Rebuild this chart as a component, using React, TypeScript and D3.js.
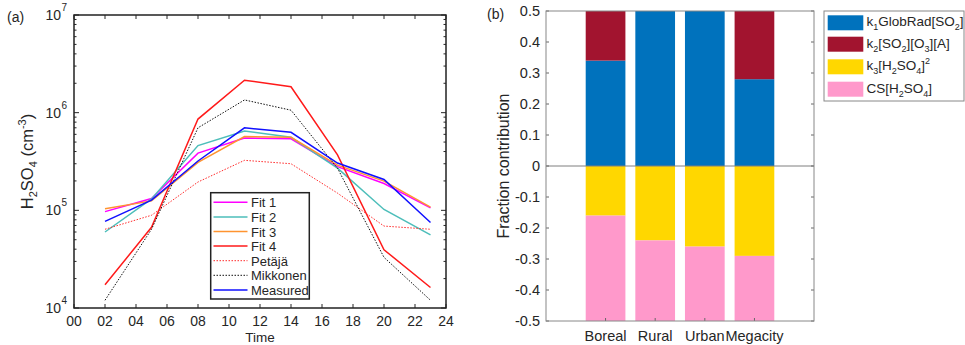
import React from "react";
import * as d3 from "d3";

const hours = [2, 5, 8, 11, 14, 17, 20, 23];
const fit1 = [9.7e4, 1.32e5, 3.85e5, 5.5e5, 5.4e5, 2.8e5, 1.88e5, 1.06e5];
const fit2 = [6.0e4, 1.31e5, 4.6e5, 6.5e5, 5.6e5, 2.7e5, 1.02e5, 5.6e4];
const fit3 = [1.04e5, 1.25e5, 3.1e5, 5.7e5, 5.6e5, 2.9e5, 1.99e5, 1.08e5];
const fit4 = [1.73e4, 6.7e4, 8.6e5, 2.15e6, 1.84e6, 3.7e5, 3.95e4, 1.62e4];
const petaja = [6.4e4, 8.9e4, 1.95e5, 3.25e5, 3.0e5, 1.5e5, 6.9e4, 6.4e4];
const mikkonen = [1.2e4, 6.4e4, 7.0e5, 1.35e6, 1.06e6, 2.7e5, 3.3e4, 1.2e4];
const measured = [7.7e4, 1.27e5, 3.2e5, 7.0e5, 6.3e5, 3.05e5, 2.07e5, 7.5e4];
const seriesNames = ["Fit 1", "Fit 2", "Fit 3", "Fit 4", "Petäjä", "Mikkonen", "Measured"];
const xTickLabels = ["00", "02", "04", "06", "08", "10", "12", "14", "16", "18", "20", "22", "24"];

const categories = ["Boreal", "Rural", "Urban", "Megacity"];
const k1 = [0.34, 0.5, 0.5, 0.28];
const k2 = [0.16, 0.0, 0.0, 0.22];
const k3 = [-0.16, -0.24, -0.26, -0.29];
const cs = [-0.34, -0.26, -0.24, -0.21];
const yTicksB = [0.5, 0.4, 0.3, 0.2, 0.1, 0, -0.1, -0.2, -0.3, -0.4, -0.5];

const FONT = "'Liberation Sans', Arial, sans-serif";
const TXT = "#262626";

export default function App() {
  // Panel (a)
  const ax = { l: 74, r: 446, t: 15, b: 308 };
  const x = d3.scaleLinear().domain([0, 24]).range([ax.l, ax.r]);
  const y = d3.scaleLog().domain([1e4, 1e7]).range([ax.b, ax.t]);
  const line = d3
    .line<[number, number]>()
    .x((d) => x(d[0]))
    .y((d) => y(d[1]));
  const series = [
    { name: seriesNames[0], v: fit1, color: "#ff00ff", w: 1.5, dash: null },
    { name: seriesNames[1], v: fit2, color: "#4dbeba", w: 1.5, dash: null },
    { name: seriesNames[2], v: fit3, color: "#ff9430", w: 1.5, dash: null },
    { name: seriesNames[3], v: fit4, color: "#ff1a1a", w: 1.5, dash: null },
    { name: seriesNames[4], v: petaja, color: "#ff2a2a", w: 1, dash: "1.5,1.5" },
    { name: seriesNames[5], v: mikkonen, color: "#111111", w: 1, dash: "1.5,1.5" },
    { name: seriesNames[6], v: measured, color: "#1010ff", w: 1.5, dash: null },
  ];
  const minorTicks: number[] = [];
  for (let e = 4; e < 7; e++) for (let m = 2; m <= 9; m++) minorTicks.push(m * Math.pow(10, e));
  const majorTicks = [1e4, 1e5, 1e6, 1e7];
  const xTickVals = d3.range(0, 25, 2);

  // Panel (b)
  const bx = { l: 546, r: 814, t: 11, b: 321 };
  const xb = d3.scaleLinear().domain([-0.2, 5.2]).range([bx.l, bx.r]);
  const yb = d3.scaleLinear().domain([-0.5, 0.5]).range([bx.b, bx.t]);
  const barW = xb(0.8) - xb(0);
  const stackColors = { k1: "#0072bd", k2: "#a2142f", k3: "#ffd700", cs: "#ff99cb" };
  const bars: { x: number; y0: number; y1: number; c: string }[] = [];
  categories.forEach((_, i) => {
    const cx = i + 1;
    bars.push({ x: cx, y0: 0, y1: k1[i], c: stackColors.k1 });
    bars.push({ x: cx, y0: k1[i], y1: k1[i] + k2[i], c: stackColors.k2 });
    bars.push({ x: cx, y0: 0, y1: k3[i], c: stackColors.k3 });
    bars.push({ x: cx, y0: k3[i], y1: k3[i] + cs[i], c: stackColors.cs });
  });

  const legA = { l: 210.7, t: 192.7, w: 98.6, h: 106.3 };
  const legB = { l: 824, t: 11, w: 140, h: 90 };
  const legBRows = [15.3, 36.7, 59.3, 81.7];

  return (
    <svg width={965} height={345} style={{ display: "block", position: "absolute", left: 0, top: 0 }} fontFamily={FONT}>
      <rect x={0} y={0} width={965} height={345} fill="#fff" />
      {/* ---------- Panel (a) ---------- */}
      <text x={7} y={22} fontSize={14} fill={TXT}>(a)</text>
      <defs>
        <clipPath id="clipA">
          <rect x={ax.l} y={ax.t} width={ax.r - ax.l} height={ax.b - ax.t} />
        </clipPath>
      </defs>
      <g clipPath="url(#clipA)">
        {series.map((s) => (
          <path
            key={s.name}
            d={line(hours.map((h, i) => [h, s.v[i]] as [number, number])) || ""}
            fill="none"
            stroke={s.color}
            strokeWidth={s.w}
            strokeDasharray={s.dash || undefined}
          />
        ))}
      </g>
      {/* ticks */}
      {xTickVals.map((t) => (
        <g key={"xt" + t}>
          <line x1={x(t)} x2={x(t)} y1={ax.b} y2={ax.b - 4} stroke={TXT} strokeWidth={1} />
          <line x1={x(t)} x2={x(t)} y1={ax.t} y2={ax.t + 4} stroke={TXT} strokeWidth={1} />
          <text x={x(t)} y={325.5} fontSize={14} fill={TXT} textAnchor="middle">
            {xTickLabels[t / 2]}
          </text>
        </g>
      ))}
      {minorTicks.map((t) => (
        <g key={"ym" + t}>
          <line x1={ax.l} x2={ax.l + 2.5} y1={y(t)} y2={y(t)} stroke={TXT} strokeWidth={1} />
          <line x1={ax.r} x2={ax.r - 2.5} y1={y(t)} y2={y(t)} stroke={TXT} strokeWidth={1} />
        </g>
      ))}
      {majorTicks.map((t, i) => (
        <g key={"yM" + t}>
          <line x1={ax.l} x2={ax.l + 5} y1={y(t)} y2={y(t)} stroke={TXT} strokeWidth={1} />
          <line x1={ax.r} x2={ax.r - 5} y1={y(t)} y2={y(t)} stroke={TXT} strokeWidth={1} />
          <text x={61} y={y(t) + 5} fontSize={14} fill={TXT} textAnchor="end">10</text>
          <text x={61.5} y={y(t) - 4} fontSize={10} fill={TXT}>{String(4 + i)}</text>
        </g>
      ))}
      <rect x={ax.l} y={ax.t} width={ax.r - ax.l} height={ax.b - ax.t} fill="none" stroke="#222" strokeWidth={1.5} />
      <text x={260} y={342} fontSize={13.5} fill={TXT} textAnchor="middle">Time</text>
      <text transform={`translate(33,${(ax.t + ax.b) / 2}) rotate(-90)`} fontSize={16.5} fill={TXT} textAnchor="middle">
        H<tspan fontSize={11} dy={4}>2</tspan>
        <tspan dy={-4}>SO</tspan>
        <tspan fontSize={11} dy={4}>4</tspan>
        <tspan dy={-4}> (cm</tspan>
        <tspan fontSize={11} dy={-7}>-3</tspan>
        <tspan dy={7}>)</tspan>
      </text>
      {/* legend a */}
      <rect x={legA.l} y={legA.t} width={legA.w} height={legA.h} fill="#fff" stroke="#222" strokeWidth={1.5} />
      {series.map((s, i) => {
        const yy = 202.3 + i * 14.6;
        return (
          <g key={"la" + s.name}>
            <line x1={213.5} x2={247.5} y1={yy} y2={yy} stroke={s.color} strokeWidth={s.w} strokeDasharray={s.dash || undefined} />
            <text x={251} y={yy + 5} fontSize={13} fill={TXT}>{s.name}</text>
          </g>
        );
      })}

      {/* ---------- Panel (b) ---------- */}
      <text x={487} y={19} fontSize={14} fill={TXT}>(b)</text>
      <defs>
        <clipPath id="clipB">
          <rect x={bx.l} y={bx.t} width={bx.r - bx.l} height={bx.b - bx.t} />
        </clipPath>
      </defs>
      <g clipPath="url(#clipB)">
        {bars.map((b, i) => {
          const top = yb(Math.max(b.y0, b.y1));
          const bot = yb(Math.min(b.y0, b.y1));
          return (
            <rect key={"bar" + i} x={xb(b.x) - barW / 2} y={top} width={barW} height={Math.max(0, bot - top)} fill={b.c} />
          );
        })}
      </g>
      <line x1={bx.l} x2={bx.r} y1={yb(0)} y2={yb(0)} stroke="#7f7f7f" strokeWidth={1} />
      {yTicksB.map((t) => (
        <g key={"ybt" + t}>
          <line x1={bx.l} x2={bx.l + 3} y1={yb(t)} y2={yb(t)} stroke="#666" strokeWidth={1} />
          <line x1={bx.r} x2={bx.r - 3} y1={yb(t)} y2={yb(t)} stroke="#666" strokeWidth={1} />
          <text x={540} y={yb(t) + 5} fontSize={14.5} fill={TXT} textAnchor="end">{String(t)}</text>
        </g>
      ))}
      {categories.map((c, i) => (
        <g key={"cat" + c}>
          <line x1={xb(i + 1)} x2={xb(i + 1)} y1={bx.b} y2={bx.b - 3} stroke="#666" strokeWidth={1} />
          <text x={xb(i + 1)} y={341} fontSize={14.5} fill={TXT} textAnchor="middle">{c}</text>
        </g>
      ))}
      <rect x={bx.l} y={bx.t} width={bx.r - bx.l} height={bx.b - bx.t} fill="none" stroke="#888" strokeWidth={1} />
      <text transform={`translate(509,${(bx.t + bx.b) / 2}) rotate(-90)`} fontSize={16} fill={TXT} textAnchor="middle">
        Fraction contribution
      </text>
      {/* legend b */}
      <rect x={legB.l} y={legB.t} width={legB.w} height={legB.h} fill="#fff" stroke="#888" strokeWidth={1} />
      {[stackColors.k1, stackColors.k2, stackColors.k3, stackColors.cs].map((c, i) => (
        <rect key={"lbs" + i} x={827.7} y={legBRows[i]} width={35.6} height={15} fill={c} />
      ))}
      <text x={866.5} y={legBRows[0] + 11} fontSize={13.5} fill={TXT}>
        k<tspan fontSize={9} dy={4}>1</tspan>
        <tspan dy={-4}>GlobRad[SO</tspan>
        <tspan fontSize={9} dy={4}>2</tspan>
        <tspan dy={-4}>]</tspan>
      </text>
      <text x={866.5} y={legBRows[1] + 11} fontSize={13.5} fill={TXT}>
        k<tspan fontSize={9} dy={4}>2</tspan>
        <tspan dy={-4}>[SO</tspan>
        <tspan fontSize={9} dy={4}>2</tspan>
        <tspan dy={-4}>][O</tspan>
        <tspan fontSize={9} dy={4}>3</tspan>
        <tspan dy={-4}>][A]</tspan>
      </text>
      <text x={866.5} y={legBRows[2] + 11} fontSize={13.5} fill={TXT}>
        k<tspan fontSize={9} dy={4}>3</tspan>
        <tspan dy={-4}>[H</tspan>
        <tspan fontSize={9} dy={4}>2</tspan>
        <tspan dy={-4}>SO</tspan>
        <tspan fontSize={9} dy={4}>4</tspan>
        <tspan dy={-4}>]</tspan>
        <tspan fontSize={9} dy={-6}>2</tspan>
      </text>
      <text x={866.5} y={legBRows[3] + 11} fontSize={13.5} fill={TXT}>
        CS[H<tspan fontSize={9} dy={4}>2</tspan>
        <tspan dy={-4}>SO</tspan>
        <tspan fontSize={9} dy={4}>4</tspan>
        <tspan dy={-4}>]</tspan>
      </text>
    </svg>
  );
}
